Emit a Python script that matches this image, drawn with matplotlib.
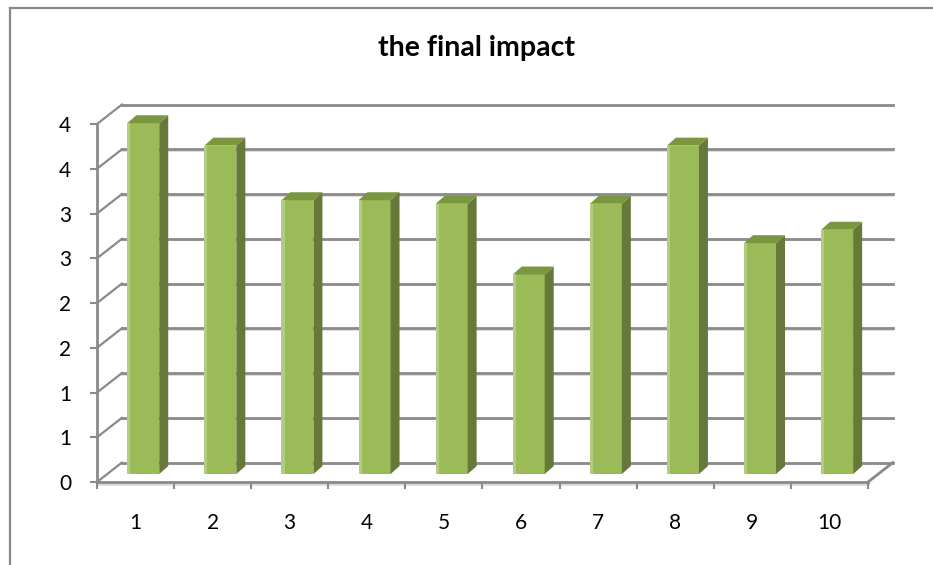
import numpy as np
import matplotlib
matplotlib.use('Agg')
import matplotlib.pyplot as plt
from matplotlib.patches import Polygon
from matplotlib.lines import Line2D
from matplotlib.ticker import FuncFormatter

plt.rcParams['font.family'] = ['Lato', 'DejaVu Sans']

categories = ['1', '2', '3', '4', '5', '6', '7', '8', '9', '10']
values = [3.92, 3.67, 3.06, 3.06, 3.02, 2.23, 3.02, 3.67, 2.58, 2.73]
y_ticks = np.arange(0, 4.01, 0.5)
title = 'the final impact'

# fake 3d look, offsets in data units
DX, DY = 0.324, 0.218        # back wall offset
FX, FY = 0.10, 0.089         # bar front face offset
SX, SY = 0.117, 0.089        # bar depth
W = 0.415

grid_c = '#8a8a8a'
front_c, light_c, side_c, top_c = '#9bbb59', '#b3cd80', '#66793a', '#7a963f'

fig = plt.figure(figsize=(9.33, 5.65), dpi=100, facecolor='white')
ax = fig.add_axes([93.1 / 933, 1 - 491 / 565, 805.7 / 933, 393.8 / 565])
ax.set_xlim(-0.05, 10.4)
ax.set_ylim(-0.1, 4.3)
ax.patch.set_visible(False)

# back wall gridlines + connectors
for v in y_ticks:
    ax.plot([DX, len(categories) + DX], [v + DY - 0.018, v + DY - 0.018], color='#d8d8d8', lw=1.2, zorder=1)
    ax.plot([DX, len(categories) + DX], [v + DY, v + DY], color=grid_c, lw=2, zorder=1.1)
    ax.plot([0, DX], [v, v + DY], color=grid_c, lw=1.6, zorder=1.1)
# floor right edge
ax.plot([len(categories), len(categories) + DX], [0, DY], color=grid_c, lw=2, zorder=1.1)
ax.plot([0, len(categories)], [-0.02, -0.02], color='#dcdcdc', lw=2, zorder=1)

# bars
xc = np.arange(len(categories)) + 0.5 + FX
ax.bar(xc, values, width=W, bottom=FY, color=front_c, edgecolor='none', zorder=3)
ax.bar(xc - W / 2 + 0.02, values, width=0.04, bottom=FY, color=light_c, edgecolor='none', zorder=3.1)
for x, v in zip(xc, values):
    xl, xr, top = x - W / 2, x + W / 2, FY + v
    ax.add_patch(Polygon([(xr, FY), (xr + SX, FY + SY), (xr + SX, top + SY), (xr, top)],
                         closed=True, facecolor=side_c, edgecolor='none', zorder=3))
    ax.add_patch(Polygon([(xl, top), (xl + SX, top + SY), (xr + SX, top + SY), (xr, top)],
                         closed=True, facecolor=top_c, edgecolor='none', zorder=3))

# axes
for s in ['top', 'right']:
    ax.spines[s].set_visible(False)
ax.spines['left'].set_position(('data', 0))
ax.spines['bottom'].set_position(('data', 0))
ax.spines['left'].set_bounds(0, 4)
ax.spines['bottom'].set_bounds(0, len(categories))
for s in ['left', 'bottom']:
    ax.spines[s].set_color(grid_c)
    ax.spines[s].set_linewidth(2)
    ax.spines[s].set_zorder(2)

ax.set_yticks(y_ticks)
ax.yaxis.set_major_formatter(FuncFormatter(lambda v, p: '{}'.format(int(v + 0.5))))
ax.tick_params(axis='y', length=5, width=1.5, color=grid_c, pad=13.5, labelsize=15)

ax.set_xticks(np.arange(len(categories) + 1))
ax.set_xticklabels([])
ax.set_xticks(np.arange(len(categories)) + 0.5, minor=True)
ax.set_xticklabels(categories, minor=True)
ax.tick_params(axis='x', which='major', length=5, width=1.5, color=grid_c)
ax.tick_params(axis='x', which='minor', length=0, pad=22.5, labelsize=15)

fig.text(477 / 933, 1 - 48 / 565, title, ha='center', va='center', fontsize=20.5, fontweight='bold')

# chart border (cut at right and bottom)
fig.add_artist(Line2D([9.5 / 933, 1], [1 - 7.5 / 565, 1 - 7.5 / 565], color='#888888', lw=1.6, transform=fig.transFigure))
fig.add_artist(Line2D([9.5 / 933, 9.5 / 933], [0, 1 - 7.5 / 565], color='#888888', lw=1.6, transform=fig.transFigure))

plt.savefig('out.png', dpi=100, facecolor='white')
